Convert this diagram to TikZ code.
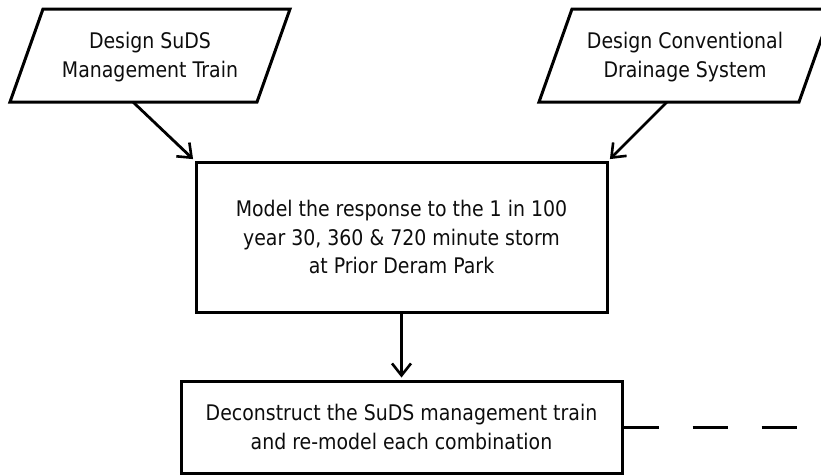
\documentclass[tikz,border=0pt]{standalone}
\usepackage{fontspec}
\setmainfont{DejaVu Sans}[FakeStretch=0.88]
\usetikzlibrary{arrows.meta}
\begin{document}
\begin{tikzpicture}[x=1pt,y=-1pt,
  shapeline/.style={line width=3pt, line join=miter},
  txt/.style={font=\fontsize{21.5}{28.5}\selectfont, align=center, text=black!95, inner sep=0pt},
  flowbox/.style={draw, rectangle, line width=3pt, txt},
  conn/.style={line width=2.8pt, shorten >=2pt, -{Straight Barb[length=12pt,width=19pt,line width=2.6pt]}},
  dashline/.style={line width=3pt, dash pattern=on 35pt off 34pt}]
\useasboundingbox (0,0) rectangle (821,475);
% input parallelograms
\draw[shapeline] (43,9) -- (290,9) -- (257,102) -- (10,102) -- cycle;
\node[txt] (suds) at (150,57) {Design SuDS\\Management Train};
\coordinate (sudsout) at (133,102);
\draw[shapeline] (572,9) -- (832,9) -- (799,102) -- (539,102) -- cycle;
\node[txt] (conv) at (685,57) {Design Conventional\\Drainage System};
\coordinate (convout) at (667,102);
% process boxes
\node[flowbox, minimum width=411pt, minimum height=150pt] (model) at (401.5,237)
  {Model the response to the 1 in 100\\ year 30, 360 \& 720 minute storm\\at Prior Deram Park};
\node[flowbox, minimum width=441pt, minimum height=92pt] (decon) at (401.5,427)
  {Deconstruct the SuDS management train\\and re-model each combination};
% connectors
\draw[conn] (sudsout) -- (model.north west);
\draw[conn] (convout) -- (model.north east);
\draw[conn] (model.south) -- (decon.north);
\coordinate (dashend) at (821,427);
\draw[dashline] (decon.east) -- (dashend);
\end{tikzpicture}
\end{document}
